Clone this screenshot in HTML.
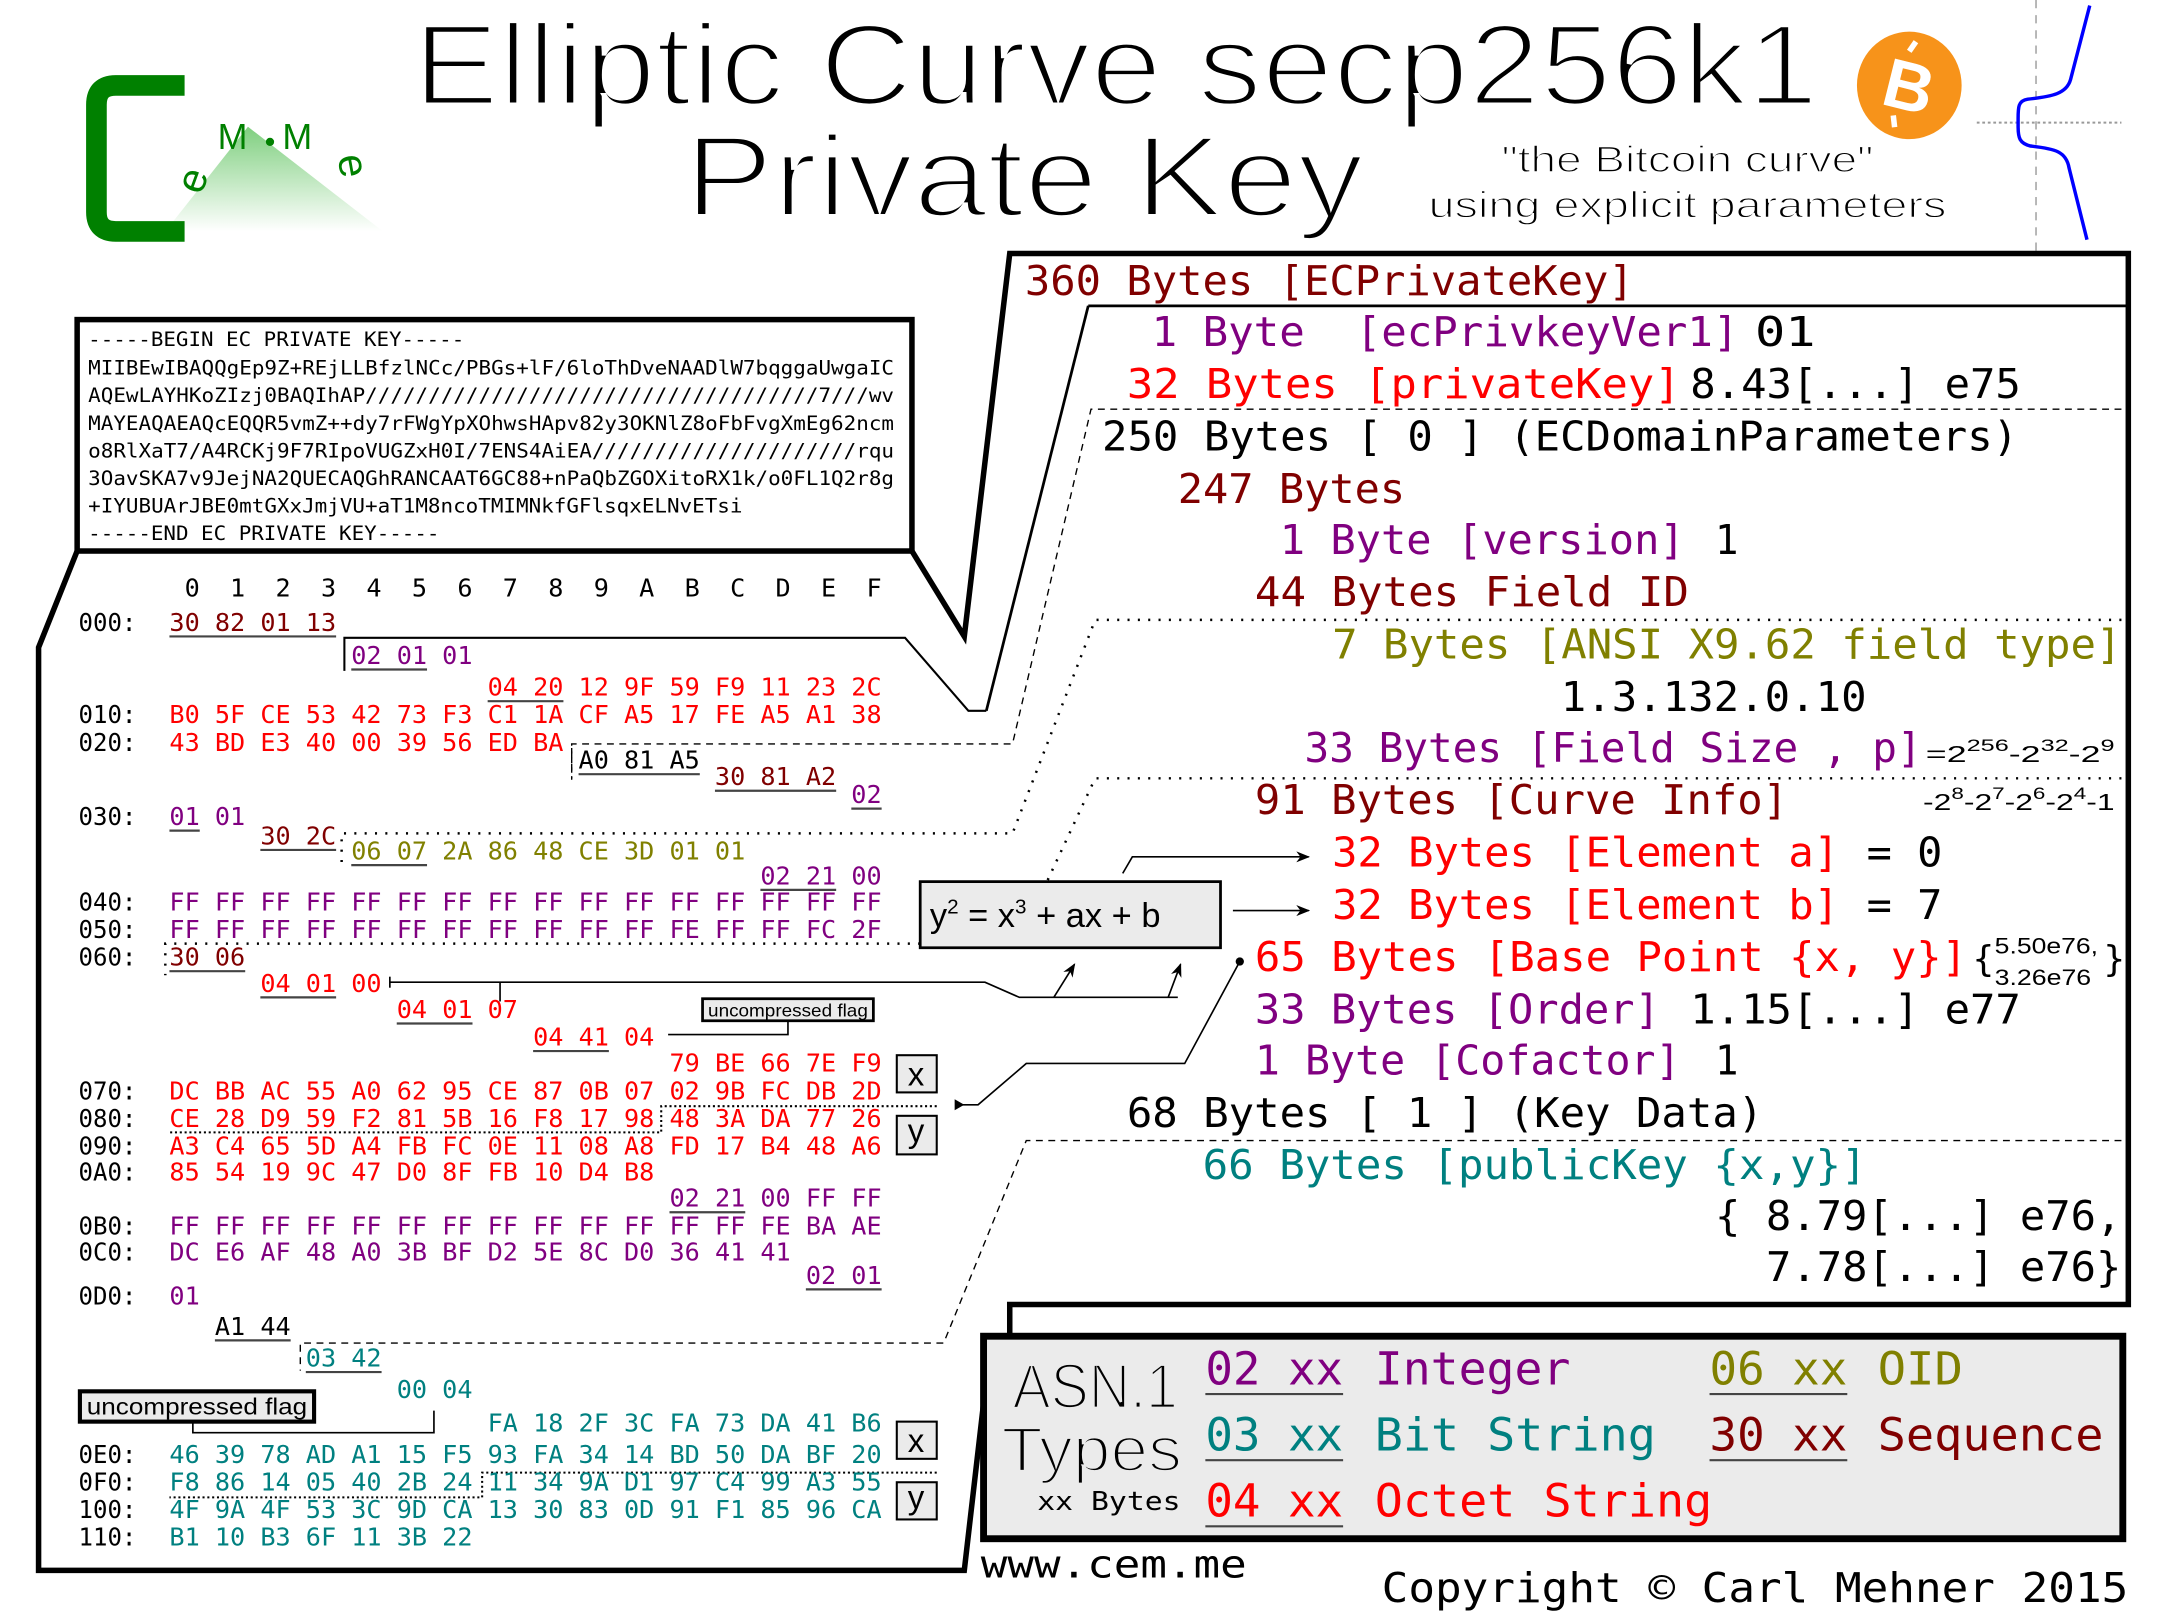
<!DOCTYPE html>
<html><head><meta charset="utf-8"><style>
html,body{margin:0;padding:0;background:#fff;}
svg{display:block;}
.m{font-family:"DejaVu Sans Mono","Liberation Mono",monospace;}
.s{font-family:"Liberation Sans","DejaVu Sans",sans-serif;}
.dr{fill:#800000}.r{fill:#ff0000}.p{fill:#800080}.o{fill:#808000}.t{fill:#008080}.k{fill:#000}
.thin{stroke:#fff;stroke-width:3.2;}
</style></head><body>
<svg width="2160" height="1620" viewBox="0 0 1568 1176" preserveAspectRatio="none" xmlns="http://www.w3.org/2000/svg">
<defs>
<linearGradient id="tri" x1="0" y1="0" x2="0" y2="1"><stop offset="0" stop-color="#7fcf7f"/><stop offset="1" stop-color="#ffffff"/></linearGradient>
<marker id="ar" markerWidth="10" markerHeight="8" refX="9" refY="4" orient="auto" markerUnits="userSpaceOnUse"><path d="M0,0 L10,4 L0,8 L3,4 Z" fill="#000"/></marker>
</defs>

<!-- Logo -->
<polygon points="180,92 120,168 278,168" fill="url(#tri)"/>
<path d="M134,62 L84,62 Q70,62 70,76 L70,154 Q70,168 84,168 L134,168" fill="none" stroke="#008000" stroke-width="15"/>
<text x="132" y="138" class="s" font-size="30" fill="#008000" transform="rotate(-70 142 130)">e</text>
<text x="158" y="108" class="s" font-size="26" fill="#008000">M</text>
<circle cx="196" cy="103" r="3" fill="#008000"/>
<text x="205" y="108" class="s" font-size="26" fill="#008000">M</text>
<text x="238" y="128" class="s" font-size="30" fill="#008000" transform="rotate(80 250 125)">e</text>

<!-- Title -->
<text x="300" y="76" class="s thin" font-size="84" textLength="1020" lengthAdjust="spacingAndGlyphs">Elliptic Curve secp256k1</text>
<text x="497" y="157" class="s thin" font-size="84" textLength="493" lengthAdjust="spacingAndGlyphs">Private Key</text>
<text x="1090" y="125" class="s" font-size="27" textLength="270" lengthAdjust="spacingAndGlyphs" stroke="#fff" stroke-width="1">"the Bitcoin curve"</text>
<text x="1037" y="158" class="s" font-size="27" textLength="376" lengthAdjust="spacingAndGlyphs" stroke="#fff" stroke-width="1">using explicit parameters</text>
<ellipse cx="1386" cy="62" rx="38" ry="39" fill="#f7931a"/>
<text x="1386" y="80" class="s" font-size="50" font-weight="bold" fill="#fff" text-anchor="middle" transform="rotate(14 1386 62)">B</text>
<line x1="1380" y1="38" x2="1383" y2="30" stroke="#fff" stroke-width="4" transform="rotate(14 1386 62)"/>
<line x1="1380" y1="86" x2="1383" y2="94" stroke="#fff" stroke-width="4" transform="rotate(14 1386 62)"/>
<!-- curve -->
<line x1="1478" y1="0" x2="1478" y2="182" stroke="#999" stroke-width="1" stroke-dasharray="6,5"/>
<line x1="1435" y1="89" x2="1540" y2="89" stroke="#999" stroke-width="1.5" stroke-dasharray="2,2"/>
<path d="M1517,4 L1503,58 C1500,68 1490,70 1472,72 C1465,73 1465,78 1465,86 L1465,92 C1465,100 1466,104 1474,106 C1492,108 1500,110 1502,122 L1515,174" fill="none" stroke="#0000ff" stroke-width="2.5"/>

<!-- PEM box -->
<rect x="56" y="232" width="606" height="168" fill="#fff" stroke="#000" stroke-width="4"/>
<g class="m k" font-size="14">
<text x="64" y="251" textLength="273" lengthAdjust="spacingAndGlyphs">-----BEGIN EC PRIVATE KEY-----</text>
<text x="64" y="272" textLength="585" lengthAdjust="spacingAndGlyphs">MIIBEwIBAQQgEp9Z+REjLLBfzlNCc/PBGs+lF/6loThDveNAADlW7bqggaUwgaIC</text>
<text x="64" y="292" textLength="585" lengthAdjust="spacingAndGlyphs">AQEwLAYHKoZIzj0BAQIhAP////////////////////////////////////7///wv</text>
<text x="64" y="312" textLength="585" lengthAdjust="spacingAndGlyphs">MAYEAQAEAQcEQQR5vmZ++dy7rFWgYpXOhwsHApv82y3OKNlZ8oFbFvgXmEg62ncm</text>
<text x="64" y="332" textLength="585" lengthAdjust="spacingAndGlyphs">o8RlXaT7/A4RCKj9F7RIpoVUGZxH0I/7ENS4AiEA/////////////////////rqu</text>
<text x="64" y="352" textLength="585" lengthAdjust="spacingAndGlyphs">3OavSKA7v9JejNA2QUECAQGhRANCAAT6GC88+nPaQbZGOXitoRX1k/o0FL1Q2r8g</text>
<text x="64" y="372" textLength="475" lengthAdjust="spacingAndGlyphs">+IYUBUArJBE0mtGXxJmjVU+aT1M8ncoTMIMNkfGFlsqxELNvETsi</text>
<text x="64" y="392" textLength="255" lengthAdjust="spacingAndGlyphs">-----END EC PRIVATE KEY-----</text>
</g>

<!-- hex frame -->
<path d="M56,400 L28,470 L28,1140 L700,1140 L715,1010" fill="none" stroke="#000" stroke-width="4"/>
<path d="M662,400 L700,462 L733,184 L1545,184 L1545,947 L733,947 L733,972" fill="none" stroke="#000" stroke-width="4"/>
<path d="M790,222 L1545,222" stroke="#000" stroke-width="2"/>
<path d="M790,222 L716,516" stroke="#000" stroke-width="2" fill="none"/>
<path d="M250,487 L250,463 L657,463 L703,516 L716,516" fill="none" stroke="#000" stroke-width="1.5"/>

<!-- dashed / dotted connectors -->
<g fill="none" stroke="#000" stroke-width="1">
<path d="M1540,297 L792,297 L735,540 L415,540 L415,565" stroke-dasharray="5,4"/>
<path d="M1540,450 L795,450 L735,605 L248,605 L248,630" stroke-dasharray="1.5,6" stroke-width="1.8"/>
<path d="M1540,565 L795,565 L760,640" stroke-dasharray="1.5,6" stroke-width="1.8"/>
<path d="M668,685 L120,685 L120,708" stroke-dasharray="1.5,6" stroke-width="1.8"/>
<path d="M1540,828 L745,828 L685,975 L218,975 L218,995" stroke-dasharray="5,4"/>
<path d="M680,803 L480,803 L480,822 L123,822" stroke-dasharray="1.5,2" stroke-width="1.5"/>
<path d="M680,1069 L350,1069 L350,1087 L123,1087" stroke-dasharray="1.5,2" stroke-width="1.5"/>
</g>

<!-- hex dump -->
<g class="m" font-size="18">
<text x="134" y="433" class="k" textLength="506" lengthAdjust="spacingAndGlyphs" xml:space="preserve">0  1  2  3  4  5  6  7  8  9  A  B  C  D  E  F</text>
<g class="k">
<text x="57" y="458" textLength="42" lengthAdjust="spacingAndGlyphs">000:</text>
<text x="57" y="525" textLength="42" lengthAdjust="spacingAndGlyphs">010:</text>
<text x="57" y="545" textLength="42" lengthAdjust="spacingAndGlyphs">020:</text>
<text x="57" y="599" textLength="42" lengthAdjust="spacingAndGlyphs">030:</text>
<text x="57" y="661" textLength="42" lengthAdjust="spacingAndGlyphs">040:</text>
<text x="57" y="681" textLength="42" lengthAdjust="spacingAndGlyphs">050:</text>
<text x="57" y="701" textLength="42" lengthAdjust="spacingAndGlyphs">060:</text>
<text x="57" y="798" textLength="42" lengthAdjust="spacingAndGlyphs">070:</text>
<text x="57" y="818" textLength="42" lengthAdjust="spacingAndGlyphs">080:</text>
<text x="57" y="838" textLength="42" lengthAdjust="spacingAndGlyphs">090:</text>
<text x="57" y="857" textLength="42" lengthAdjust="spacingAndGlyphs">0A0:</text>
<text x="57" y="896" textLength="42" lengthAdjust="spacingAndGlyphs">0B0:</text>
<text x="57" y="915" textLength="42" lengthAdjust="spacingAndGlyphs">0C0:</text>
<text x="57" y="947" textLength="42" lengthAdjust="spacingAndGlyphs">0D0:</text>
<text x="57" y="1062" textLength="42" lengthAdjust="spacingAndGlyphs">0E0:</text>
<text x="57" y="1082" textLength="42" lengthAdjust="spacingAndGlyphs">0F0:</text>
<text x="57" y="1102" textLength="42" lengthAdjust="spacingAndGlyphs">100:</text>
<text x="57" y="1122" textLength="42" lengthAdjust="spacingAndGlyphs">110:</text>
</g>
<text x="123" y="458" class="dr" textLength="121" lengthAdjust="spacingAndGlyphs">30 82 01 13</text>
<text x="255" y="482" class="p" textLength="88" lengthAdjust="spacingAndGlyphs">02 01 01</text>
<text x="354" y="505" class="r" textLength="286" lengthAdjust="spacingAndGlyphs">04 20 12 9F 59 F9 11 23 2C</text>
<text x="123" y="525" class="r" textLength="517" lengthAdjust="spacingAndGlyphs">B0 5F CE 53 42 73 F3 C1 1A CF A5 17 FE A5 A1 38</text>
<text x="123" y="545" class="r" textLength="286" lengthAdjust="spacingAndGlyphs">43 BD E3 40 00 39 56 ED BA</text>
<text x="420" y="558" class="k" textLength="88" lengthAdjust="spacingAndGlyphs">A0 81 A5</text>
<text x="519" y="570" class="dr" textLength="88" lengthAdjust="spacingAndGlyphs">30 81 A2</text>
<text x="618" y="583" class="p" textLength="22" lengthAdjust="spacingAndGlyphs">02</text>
<text x="123" y="599" class="p" textLength="55" lengthAdjust="spacingAndGlyphs">01 01</text>
<text x="189" y="613" class="dr" textLength="55" lengthAdjust="spacingAndGlyphs">30 2C</text>
<text x="255" y="624" class="o" textLength="286" lengthAdjust="spacingAndGlyphs">06 07 2A 86 48 CE 3D 01 01</text>
<text x="552" y="642" class="p" textLength="88" lengthAdjust="spacingAndGlyphs">02 21 00</text>
<text x="123" y="661" class="p" textLength="517" lengthAdjust="spacingAndGlyphs">FF FF FF FF FF FF FF FF FF FF FF FF FF FF FF FF</text>
<text x="123" y="681" class="p" textLength="517" lengthAdjust="spacingAndGlyphs">FF FF FF FF FF FF FF FF FF FF FF FE FF FF FC 2F</text>
<text x="123" y="701" class="dr" textLength="55" lengthAdjust="spacingAndGlyphs">30 06</text>
<text x="189" y="720" class="r" textLength="88" lengthAdjust="spacingAndGlyphs">04 01 00</text>
<text x="288" y="739" class="r" textLength="88" lengthAdjust="spacingAndGlyphs">04 01 07</text>
<text x="387" y="759" class="r" textLength="88" lengthAdjust="spacingAndGlyphs">04 41 04</text>
<text x="486" y="778" class="r" textLength="154" lengthAdjust="spacingAndGlyphs">79 BE 66 7E F9</text>
<text x="123" y="798" class="r" textLength="517" lengthAdjust="spacingAndGlyphs">DC BB AC 55 A0 62 95 CE 87 0B 07 02 9B FC DB 2D</text>
<text x="123" y="818" class="r" textLength="517" lengthAdjust="spacingAndGlyphs">CE 28 D9 59 F2 81 5B 16 F8 17 98 48 3A DA 77 26</text>
<text x="123" y="838" class="r" textLength="517" lengthAdjust="spacingAndGlyphs">A3 C4 65 5D A4 FB FC 0E 11 08 A8 FD 17 B4 48 A6</text>
<text x="123" y="857" class="r" textLength="352" lengthAdjust="spacingAndGlyphs">85 54 19 9C 47 D0 8F FB 10 D4 B8</text>
<text x="486" y="876" class="p" textLength="154" lengthAdjust="spacingAndGlyphs">02 21 00 FF FF</text>
<text x="123" y="896" class="p" textLength="517" lengthAdjust="spacingAndGlyphs">FF FF FF FF FF FF FF FF FF FF FF FF FF FE BA AE</text>
<text x="123" y="915" class="p" textLength="451" lengthAdjust="spacingAndGlyphs">DC E6 AF 48 A0 3B BF D2 5E 8C D0 36 41 41</text>
<text x="585" y="932" class="p" textLength="55" lengthAdjust="spacingAndGlyphs">02 01</text>
<text x="123" y="947" class="p" textLength="22" lengthAdjust="spacingAndGlyphs">01</text>
<text x="156" y="969" class="k" textLength="55" lengthAdjust="spacingAndGlyphs">A1 44</text>
<text x="222" y="992" class="t" textLength="55" lengthAdjust="spacingAndGlyphs">03 42</text>
<text x="288" y="1015" class="t" textLength="55" lengthAdjust="spacingAndGlyphs">00 04</text>
<text x="354" y="1039" class="t" textLength="286" lengthAdjust="spacingAndGlyphs">FA 18 2F 3C FA 73 DA 41 B6</text>
<text x="123" y="1062" class="t" textLength="517" lengthAdjust="spacingAndGlyphs">46 39 78 AD A1 15 F5 93 FA 34 14 BD 50 DA BF 20</text>
<text x="123" y="1082" class="t" textLength="517" lengthAdjust="spacingAndGlyphs">F8 86 14 05 40 2B 24 11 34 9A D1 97 C4 99 A3 55</text>
<text x="123" y="1102" class="t" textLength="517" lengthAdjust="spacingAndGlyphs">4F 9A 4F 53 3C 9D CA 13 30 83 0D 91 F1 85 96 CA</text>
<text x="123" y="1122" class="t" textLength="220" lengthAdjust="spacingAndGlyphs">B1 10 B3 6F 11 3B 22</text>
</g>
<!-- underlines -->
<g stroke="#444" stroke-width="1.6">
<line x1="123" y1="462" x2="244" y2="462"/>
<line x1="255" y1="486" x2="310" y2="486"/>
<line x1="354" y1="509" x2="409" y2="509"/>
<line x1="420" y1="562" x2="508" y2="562"/>
<line x1="519" y1="574" x2="607" y2="574"/>
<line x1="618" y1="587" x2="640" y2="587"/>
<line x1="123" y1="603" x2="145" y2="603"/>
<line x1="189" y1="617" x2="244" y2="617"/>
<line x1="255" y1="628" x2="310" y2="628"/>
<line x1="552" y1="646" x2="607" y2="646"/>
<line x1="123" y1="705" x2="178" y2="705"/>
<line x1="189" y1="724" x2="244" y2="724"/>
<line x1="288" y1="743" x2="343" y2="743"/>
<line x1="387" y1="763" x2="442" y2="763"/>
<line x1="486" y1="880" x2="541" y2="880"/>
<line x1="585" y1="936" x2="640" y2="936"/>
<line x1="156" y1="973" x2="211" y2="973"/>
<line x1="222" y1="996" x2="277" y2="996"/>
</g>
<line x1="415" y1="543" x2="415" y2="566" stroke="#000" stroke-width="1" stroke-dasharray="4,3"/>

<!-- x / y boxes -->
<g class="s" font-size="24" stroke="#000" stroke-width="1.5">
<rect x="651" y="766" width="29" height="27" fill="#ebebeb"/>
<rect x="651" y="810" width="29" height="28" fill="#ebebeb"/>
<rect x="651" y="1032" width="29" height="27" fill="#ebebeb"/>
<rect x="651" y="1076" width="29" height="27" fill="#ebebeb"/>
</g>
<g class="s" font-size="24" fill="#000" text-anchor="middle">
<text x="665" y="788">x</text><text x="665" y="829">y</text>
<text x="665" y="1054">x</text><text x="665" y="1095">y</text>
</g>

<!-- uncompressed flags -->
<rect x="510" y="725" width="124" height="16" fill="#ebebeb" stroke="#000" stroke-width="2"/>
<text x="514" y="738" class="s" font-size="13" textLength="116" lengthAdjust="spacingAndGlyphs">uncompressed flag</text>
<path d="M572,741 L572,751 L485,751" fill="none" stroke="#000" stroke-width="1.2"/>
<rect x="58" y="1010" width="170" height="22" fill="#ebebeb" stroke="#000" stroke-width="3"/>
<text x="63" y="1027" class="s" font-size="17" textLength="160" lengthAdjust="spacingAndGlyphs">uncompressed flag</text>
<path d="M140,1032 L140,1040 L315,1040 L315,1024" fill="none" stroke="#000" stroke-width="1.2"/>

<!-- equation box & arrows -->
<rect x="668" y="640" width="218" height="48" fill="#ebebeb" stroke="#000" stroke-width="2"/>
<text x="675" y="673" class="s" font-size="25">y<tspan font-size="15" dy="-10">2</tspan><tspan dy="10"> = x</tspan><tspan font-size="15" dy="-10">3</tspan><tspan dy="10"> + ax + b</tspan></text>
<g fill="none" stroke="#000" stroke-width="1.2">
<path d="M895,661 L950,661" marker-end="url(#ar)"/>
<path d="M815,634 L822,622 L950,622" marker-end="url(#ar)"/>
<path d="M283,713 L715,713 L740,724 L855,724"/>
<line x1="283" y1="709" x2="283" y2="717"/>
<line x1="363" y1="713" x2="363" y2="727"/>
<path d="M765,724 L780,700" marker-end="url(#ar)"/>
<path d="M848,724 L857,700" marker-end="url(#ar)"/>
<path d="M900,698 L860,772 L745,772 L710,802 L695,802" />
</g>
<circle cx="900" cy="698" r="3" fill="#000"/>
<path d="M693,798 L700,802 L693,806 Z" fill="#000"/>

<!-- right panel text -->
<g class="m" font-size="30">
<text x="744" y="214" class="dr" textLength="442" lengthAdjust="spacingAndGlyphs">360 Bytes [ECPrivateKey]</text>
<text x="836" y="251" class="p" textLength="426" lengthAdjust="spacingAndGlyphs" xml:space="preserve">1 Byte  [ecPrivkeyVer1]</text>
<text x="1274" y="251" class="k" textLength="44" lengthAdjust="spacingAndGlyphs">01</text>
<text x="818" y="289" class="r" textLength="402" lengthAdjust="spacingAndGlyphs">32 Bytes [privateKey]</text>
<text x="1227" y="289" class="k" textLength="240" lengthAdjust="spacingAndGlyphs">8.43[...] e75</text>
<text x="800" y="327" class="k" textLength="665" lengthAdjust="spacingAndGlyphs">250 Bytes [ 0 ] (ECDomainParameters)</text>
<text x="855" y="365" class="dr" textLength="165" lengthAdjust="spacingAndGlyphs">247 Bytes</text>
<text x="929" y="402" class="p" textLength="294" lengthAdjust="spacingAndGlyphs">1 Byte [version]</text>
<text x="1245" y="402" class="k" textLength="17" lengthAdjust="spacingAndGlyphs">1</text>
<text x="911" y="440" class="dr" textLength="315" lengthAdjust="spacingAndGlyphs">44 Bytes Field ID</text>
<text x="967" y="478" class="o" textLength="573" lengthAdjust="spacingAndGlyphs">7 Bytes [ANSI X9.62 field type]</text>
<text x="1133" y="516" class="k" textLength="222" lengthAdjust="spacingAndGlyphs">1.3.132.0.10</text>
<text x="947" y="553" class="p" textLength="448" lengthAdjust="spacingAndGlyphs">33 Bytes [Field Size , p]</text>
<text x="911" y="591" class="dr" textLength="387" lengthAdjust="spacingAndGlyphs">91 Bytes [Curve Info]</text>
<text x="967" y="629" class="r" textLength="368" lengthAdjust="spacingAndGlyphs">32 Bytes [Element a]</text>
<text x="1355" y="629" class="k" textLength="55" lengthAdjust="spacingAndGlyphs">= 0</text>
<text x="967" y="667" class="r" textLength="368" lengthAdjust="spacingAndGlyphs">32 Bytes [Element b]</text>
<text x="1355" y="667" class="k" textLength="55" lengthAdjust="spacingAndGlyphs">= 7</text>
<text x="911" y="705" class="r" textLength="517" lengthAdjust="spacingAndGlyphs">65 Bytes [Base Point {x, y}]</text>
<text x="1432" y="705" class="k" font-size="26">{</text>
<text x="1527" y="705" class="k" font-size="26">}</text>
<text x="911" y="743" class="p" textLength="294" lengthAdjust="spacingAndGlyphs">33 Bytes [Order]</text>
<text x="1227" y="743" class="k" textLength="240" lengthAdjust="spacingAndGlyphs">1.15[...] e77</text>
<text x="911" y="780" class="p" textLength="309" lengthAdjust="spacingAndGlyphs">1 Byte [Cofactor]</text>
<text x="1245" y="780" class="k" textLength="17" lengthAdjust="spacingAndGlyphs">1</text>
<text x="818" y="818" class="k" textLength="462" lengthAdjust="spacingAndGlyphs">68 Bytes [ 1 ] (Key Data)</text>
<text x="873" y="856" class="t" textLength="482" lengthAdjust="spacingAndGlyphs">66 Bytes [publicKey {x,y}]</text>
<text x="1245" y="893" class="k" textLength="295" lengthAdjust="spacingAndGlyphs">{ 8.79[...] e76,</text>
<text x="1282" y="930" class="k" textLength="258" lengthAdjust="spacingAndGlyphs">7.78[...] e76}</text>
</g>
<g class="s k" font-size="17">
<text x="1398" y="553" textLength="137" lengthAdjust="spacingAndGlyphs">=2<tspan font-size="12" dy="-8">256</tspan><tspan dy="8">-2</tspan><tspan font-size="12" dy="-8">32</tspan><tspan dy="8">-2</tspan><tspan font-size="12" dy="-8">9</tspan></text>
<text x="1396" y="588" textLength="139" lengthAdjust="spacingAndGlyphs">-2<tspan font-size="12" dy="-8">8</tspan><tspan dy="8">-2</tspan><tspan font-size="12" dy="-8">7</tspan><tspan dy="8">-2</tspan><tspan font-size="12" dy="-8">6</tspan><tspan dy="8">-2</tspan><tspan font-size="12" dy="-8">4</tspan><tspan dy="8">-1</tspan></text>
<text x="1448" y="692" font-size="16" textLength="75" lengthAdjust="spacingAndGlyphs">5.50e76,</text>
<text x="1448" y="715" font-size="16" textLength="70" lengthAdjust="spacingAndGlyphs">3.26e76</text>
</g>

<!-- ASN box -->
<rect x="714" y="970" width="827" height="147" fill="#ebebeb" stroke="#000" stroke-width="5"/>
<text x="735" y="1022" class="s k" font-size="46" textLength="120" lengthAdjust="spacingAndGlyphs" stroke="#ebebeb" stroke-width="2">ASN.1</text>
<text x="727" y="1068" class="s k" font-size="46" textLength="131" lengthAdjust="spacingAndGlyphs" stroke="#ebebeb" stroke-width="2">Types</text>
<text x="753" y="1096" class="m k" font-size="19" textLength="104" lengthAdjust="spacingAndGlyphs">xx Bytes</text>
<g class="m" font-size="33">
<text x="875" y="1005" class="p" textLength="100" lengthAdjust="spacingAndGlyphs">02 xx</text>
<text x="998" y="1005" class="p" textLength="142" lengthAdjust="spacingAndGlyphs">Integer</text>
<text x="875" y="1053" class="t" textLength="100" lengthAdjust="spacingAndGlyphs">03 xx</text>
<text x="998" y="1053" class="t" textLength="204" lengthAdjust="spacingAndGlyphs">Bit String</text>
<text x="875" y="1101" class="r" textLength="100" lengthAdjust="spacingAndGlyphs">04 xx</text>
<text x="998" y="1101" class="r" textLength="245" lengthAdjust="spacingAndGlyphs">Octet String</text>
<text x="1241" y="1005" class="o" textLength="100" lengthAdjust="spacingAndGlyphs">06 xx</text>
<text x="1363" y="1005" class="o" textLength="62" lengthAdjust="spacingAndGlyphs">OID</text>
<text x="1241" y="1053" class="dr" textLength="100" lengthAdjust="spacingAndGlyphs">30 xx</text>
<text x="1363" y="1053" class="dr" textLength="164" lengthAdjust="spacingAndGlyphs">Sequence</text>
</g>
<g stroke="#444" stroke-width="1.5">
<line x1="875" y1="1012" x2="975" y2="1012"/>
<line x1="875" y1="1060" x2="975" y2="1060"/>
<line x1="875" y1="1108" x2="975" y2="1108"/>
<line x1="1241" y1="1012" x2="1341" y2="1012"/>
<line x1="1241" y1="1060" x2="1341" y2="1060"/>
</g>

<text x="712" y="1145" class="m k" font-size="28" textLength="193" lengthAdjust="spacingAndGlyphs">www.cem.me</text>
<text x="1003" y="1163" class="m k" font-size="30" textLength="542" lengthAdjust="spacingAndGlyphs">Copyright © Carl Mehner 2015</text>
</svg>
</body></html>
